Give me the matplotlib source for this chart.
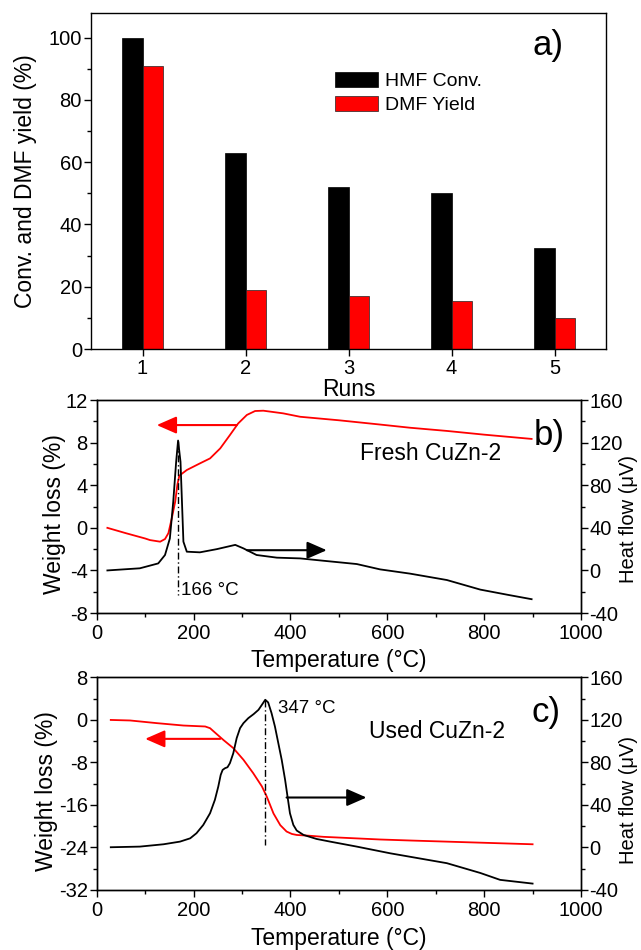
import matplotlib
matplotlib.use("Agg")
import matplotlib.pyplot as plt
from matplotlib.ticker import MultipleLocator

plt.rcParams['font.family'] = ['Liberation Sans', 'DejaVu Sans']
plt.rcParams['axes.unicode_minus'] = False

# a) recycling runs
runs = [1, 2, 3, 4, 5]
hmf_conv = [100, 63, 52, 50, 32.5]
dmf_yield = [91, 19, 17, 15.5, 10]

# b) fresh CuZn-2: weight loss (%) and heat flow (uV)
fresh_w_T = [22, 60, 100, 110, 131, 141, 148, 155, 162, 166.5, 170.6, 186, 213, 234, 255,
             275, 292, 310, 327, 344, 385, 420, 500, 585, 647, 723, 800, 898]
fresh_w = [0, -0.5, -1.0, -1.15, -1.3, -1.05, -0.5, 0.9, 2.45, 4.05, 4.9, 5.43, 6.05, 6.52,
           7.46, 8.71, 9.8, 10.6, 10.97, 11.0, 10.75, 10.43, 10.1, 9.7, 9.4, 9.1, 8.75, 8.35]
fresh_h_T = [22, 89, 127, 141, 151, 158, 164, 168, 173, 176, 179, 186, 213, 248, 286,
             303, 330, 372, 420, 468, 537, 585, 647, 723, 792, 850, 898]
fresh_h = [0, 2, 6.6, 14.5, 30, 64.5, 102, 122, 102, 64.5, 27, 17.6, 17, 20, 24,
           20.7, 14.5, 12, 11.3, 9.1, 6, 1, -3, -9, -18, -23, -27]

# c) used CuZn-2
used_w_T = [29, 69, 124, 179, 224, 234, 244, 255, 262, 282, 303, 323, 341, 351, 365, 379,
            392, 403, 413, 440, 468, 585, 650, 900]
used_w = [0, -0.1, -0.6, -1.05, -1.23, -1.55, -2.36, -3.24, -3.8, -5.3, -7.5, -10.0, -12.5,
          -14.4, -17.6, -19.8, -21.0, -21.46, -21.65, -21.8, -22.0, -22.5, -22.7, -23.4]
used_h_T = [29, 89, 138, 172, 193, 206, 220, 234, 244, 251, 256, 260, 265, 270, 275, 282,
            289, 296, 303, 313, 324, 334, 341, 348, 354, 361, 368, 375, 382, 389, 394, 399,
            406, 413, 427, 454, 482, 537, 606, 650, 723, 792, 833, 900]
used_h = [0.2, 0.8, 3, 5.5, 8.6, 13.4, 21.2, 32.2, 44.8, 57.3, 68.3, 73, 74.6, 75.5, 79.3,
          88.7, 102.9, 112.3, 117, 121.7, 125.5, 129.5, 134.2, 139, 136.5, 126.4, 113.8, 98.1,
          82.4, 63.6, 47.9, 32.2, 21.2, 15.9, 11.8, 8, 5.5, 0.8, -5.5, -9, -14.8, -24, -30.5,
          -34]

TICK = 14.5
LAB = 16.5

fig = plt.figure(figsize=(6.41, 9.5), dpi=100)


def style(ax):
    ax.tick_params(which='both', direction='out', labelsize=TICK)
    ax.tick_params(which='major', length=5, width=1)
    ax.tick_params(which='minor', length=3, width=1)
    ax.tick_params(axis='y', pad=1.5)
    ax.tick_params(axis='x', pad=3)
    for s in ax.spines.values():
        s.set_linewidth(1.0)


# ---- a)
axa = fig.add_axes([0.142, 0.6326, 0.8034, 0.354])
axa.bar([r - 0.1 for r in runs], hmf_conv, width=0.2, color='black', edgecolor='black',
        linewidth=0.5, label='HMF Conv.')
axa.bar([r + 0.1 for r in runs], dmf_yield, width=0.2, color='#ff0000', edgecolor='#222222',
        linewidth=0.5, label='DMF Yield')
axa.set_xlim(0.5, 5.5)
axa.set_ylim(0, 108)
axa.set_xticks(runs)
axa.yaxis.set_major_locator(MultipleLocator(20))
axa.yaxis.set_minor_locator(MultipleLocator(10))
style(axa)
axa.tick_params(axis='x', pad=2)
axa.set_ylabel('Conv. and DMF yield (%)', fontsize=LAB)
axa.set_xlabel('Runs', fontsize=LAB)
axa.yaxis.set_label_coords(-0.105, 0.5)
axa.xaxis.set_label_coords(0.5, -0.086)
axa.legend(loc='upper left', bbox_to_anchor=(0.44, 0.875), frameon=False, fontsize=14,
           handlelength=2.2, handleheight=0.8, handletextpad=0.35, labelspacing=0.3)
axa.text(0.887, 0.904, 'a)', transform=axa.transAxes, fontsize=25, ha='center', va='center')

arrow_kw = dict(arrowstyle='-|>,head_length=0.8,head_width=0.35', mutation_scale=15,
                lw=1.5, shrinkA=0, shrinkB=0)


def tga_panel(rect, wT, w, hT, h, wlim, wstep, peak_T, peak_h, peak_lab, lab_xy,
              name, name_xy, letter, letter_xy, red_arrow, black_arrow, ylab_xy, rlab_y,
              xlab_y):
    ax = fig.add_axes(rect)
    ax.plot(wT, w, color='#ff0000', lw=1.3)
    ax.set_xlim(0, 1000)
    ax.set_ylim(*wlim)
    ax.xaxis.set_major_locator(MultipleLocator(200))
    ax.xaxis.set_minor_locator(MultipleLocator(100))
    ax.yaxis.set_major_locator(MultipleLocator(wstep))
    ax.yaxis.set_minor_locator(MultipleLocator(wstep / 2))
    style(ax)
    ax.set_ylabel('Weight loss (%)', fontsize=LAB)
    ax.set_xlabel('Temperature (\u00b0C)', fontsize=LAB)
    ax.yaxis.set_label_coords(*ylab_xy)
    ax.xaxis.set_label_coords(0.5, xlab_y)
    (x0, x1, yy) = red_arrow
    ax.annotate('', xy=(x1, yy), xytext=(x0, yy),
                arrowprops=dict(color='#ff0000', **arrow_kw))
    ax.text(name_xy[0], name_xy[1], name, fontsize=LAB, ha='left', va='center')
    ax.text(letter_xy[0], letter_xy[1], letter, transform=ax.transAxes, fontsize=25,
            ha='center', va='center')

    ax2 = ax.twinx()
    ax2.plot(hT, h, color='black', lw=1.3)
    ax2.set_ylim(-40, 160)
    ax2.yaxis.set_major_locator(MultipleLocator(40))
    ax2.yaxis.set_minor_locator(MultipleLocator(20))
    style(ax2)
    ax2.tick_params(axis='y', pad=1)
    ax2.plot([peak_T, peak_T], peak_h, color='black', lw=1.0, ls=(0, (5, 2, 1, 2)))
    ax2.text(lab_xy[0], lab_xy[1], peak_lab, fontsize=13.5, ha='left', va='center')
    (x0, x1, yy) = black_arrow
    ax2.annotate('', xy=(x1, yy), xytext=(x0, yy),
                 arrowprops=dict(color='black', **arrow_kw))
    ax2.set_ylabel('Heat flow (\u03bcV)', fontsize=14.5)
    ax2.yaxis.set_label_coords(1.078, rlab_y)
    return ax, ax2


tga_panel([0.1509, 0.3547, 0.7555, 0.2242], fresh_w_T, fresh_w, fresh_h_T, fresh_h,
          (-8, 12), 4, 167, [122, -23], '166 \u00b0C', (175, -19),
          'Fresh CuZn-2', (543, 7.0), 'b)', (0.934, 0.833),
          (289, 124, 9.65), (310, 475, 19), (-0.063, 0.465), 0.44, -0.169)

tga_panel([0.1509, 0.0632, 0.7555, 0.2237], used_w_T, used_w, used_h_T, used_h,
          (-32, 8), 8, 348, [139, 2], '347 \u00b0C', (375, 131),
          'Used CuZn-2', (562, -2.2), 'c)', (0.928, 0.833),
          (255, 100, -3.56), (392, 557, 47), (-0.079, 0.465), 0.425, -0.174)

fig.savefig('out.png', dpi=100)
